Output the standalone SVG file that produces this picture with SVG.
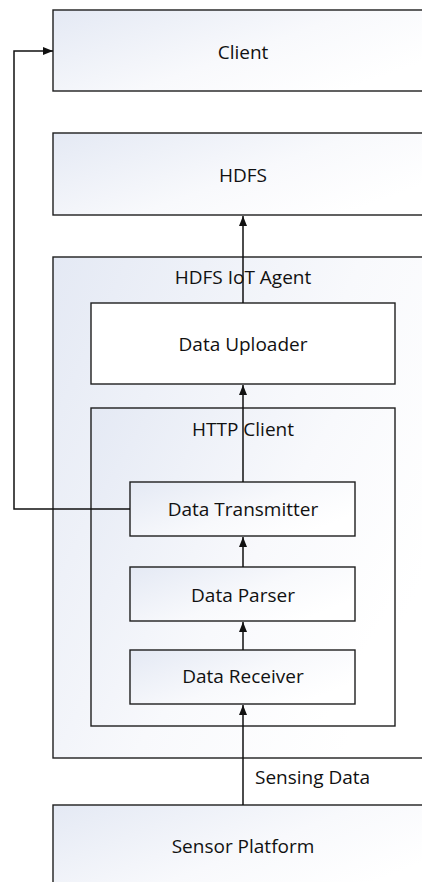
<svg xmlns="http://www.w3.org/2000/svg" width="422" height="882" viewBox="0 0 422 882">
<style>
.box{stroke:#1e1e1e;stroke-width:1.4;fill:url(#g)}
.wbox{stroke:#1e1e1e;stroke-width:1.4;fill:#ffffff}
.t{font-family:"Open Sans","Liberation Sans",sans-serif;font-size:19px;fill:#111;text-anchor:middle}
.c{stroke:#111;stroke-width:1.5;fill:none}
</style>
<defs>
<linearGradient id="g" x1="0" y1="0" x2="1" y2="0.6">
<stop offset="0" stop-color="#e4e9f4"/>
<stop offset="0.6" stop-color="#f8f9fc"/>
<stop offset="1" stop-color="#ffffff"/>
</linearGradient>
<marker id="a" markerWidth="10" markerHeight="8" refX="10" refY="4" orient="auto" markerUnits="userSpaceOnUse">
<path d="M0,0 L10,4 L0,8 Z" fill="#111"/>
</marker>
</defs>
<rect width="422" height="882" fill="#fff"/>
<g id="client"><rect class="box" x="53" y="10" width="380" height="81"/><text class="t" x="243" y="59">Client</text></g>
<g id="hdfs"><rect class="box" x="53" y="133" width="380" height="82"/><text class="t" x="243" y="182">HDFS</text></g>
<g id="agent"><rect class="box" x="53" y="257" width="380" height="501"/><text class="t" x="243" y="284">HDFS IoT Agent</text></g>
<g id="uploader"><rect class="wbox" x="91" y="303" width="304" height="81"/><text class="t" x="243" y="351">Data Uploader</text></g>
<g id="httpclient"><rect class="box" x="91" y="408" width="304" height="318"/><text class="t" x="243" y="436">HTTP Client</text></g>
<g id="transmitter"><rect class="box" x="130" y="482" width="225" height="54"/><text class="t" x="243" y="516">Data Transmitter</text></g>
<g id="parser"><rect class="box" x="130" y="567" width="225" height="54"/><text class="t" x="243" y="602">Data Parser</text></g>
<g id="receiver"><rect class="box" x="130" y="650" width="225" height="54"/><text class="t" x="243" y="683">Data Receiver</text></g>
<g id="sensor"><rect class="box" x="53" y="805" width="380" height="90"/><text class="t" x="243" y="853">Sensor Platform</text></g>
<g id="connectors">
<line class="c" x1="243" y1="303" x2="243" y2="216" marker-end="url(#a)"/>
<line class="c" x1="243" y1="482" x2="243" y2="385" marker-end="url(#a)"/>
<line class="c" x1="243" y1="567" x2="243" y2="537" marker-end="url(#a)"/>
<line class="c" x1="243" y1="650" x2="243" y2="622" marker-end="url(#a)"/>
<line class="c" x1="243" y1="805" x2="243" y2="705" marker-end="url(#a)"/>
<polyline class="c" points="130,509 14,509 14,51 53,51" marker-end="url(#a)"/>
<text class="t" x="255" y="784" style="text-anchor:start">Sensing Data</text>
</g>
</svg>
